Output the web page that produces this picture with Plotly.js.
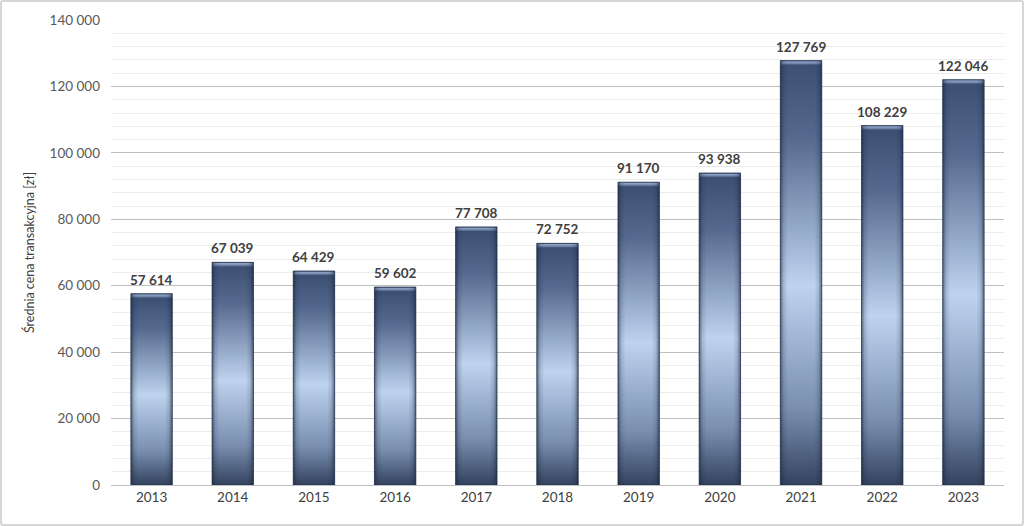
<!DOCTYPE html>
<html>
<head>
<meta charset="utf-8">
<script src="https://cdn.plot.ly/plotly-3.0.1.min.js"></script>
<style>
html,body{margin:0;padding:0;background:#fff;}
#wrap{position:relative;width:1024px;height:526px;}
#chart{width:1024px;height:526px;}
#frame{position:absolute;left:0;top:0;width:1024px;height:526px;box-sizing:border-box;border:2px solid #d6d6d6;border-radius:3px;pointer-events:none;}
</style>
</head>
<body>
<div id="wrap"><div id="chart"></div><div id="frame"></div></div>
<script>
const years = ['2013','2014','2015','2016','2017','2018','2019','2020','2021','2022','2023'];
const prices = [57614, 67039, 64429, 59602, 77708, 72752, 91170, 93938, 127769, 108229, 122046];
const yTickVals = [0, 20000, 40000, 60000, 80000, 100000, 120000, 140000];
const yTitle = 'Średnia cena transakcyjna [zł]';

function fmt(v){ return String(v).replace(/\B(?=(\d{3})+(?!\d))/g, ' '); }

const trace = {
  type: 'bar',
  x: years,
  y: prices,
  marker: {color: '#7f93b3', line: {color: '#2c3a54', width: 0.8}},
  hoverinfo: 'none'
};

const annotations = years.map((yr, i) => ({
  x: i, y: prices[i], xref: 'x', yref: 'y',
  text: fmt(prices[i]), showarrow: false, yanchor: 'bottom', yshift: 4,
  font: {family: 'Lato, "Open Sans", sans-serif', size: 13.5, color: '#404040', weight: 'bold'}
}));

const layout = {
  width: 1024, height: 526,
  margin: {l: 111, r: 20, t: 20, b: 41},
  paper_bgcolor: '#ffffff', plot_bgcolor: '#ffffff',
  bargap: 0.49,
  showlegend: false,
  font: {family: 'Lato, "Open Sans", sans-serif', color: '#404040'},
  xaxis: {
    type: 'category',
    range: [-0.5, years.length - 0.5],
    showline: true, linecolor: '#bfbfbf', linewidth: 1.2,
    ticks: '', tickfont: {size: 13.5, color: '#404040'},
    showgrid: false, zeroline: false
  },
  yaxis: {
    range: [0, 140000],
    tickvals: yTickVals,
    ticktext: yTickVals.map(fmt),
    ticks: '', ticklabelstandoff: 10,
    tickfont: {size: 13.5, color: '#595959'},
    showgrid: true, gridcolor: '#bfbfbf', gridwidth: 1.2,
    zeroline: false, showline: false,
    minor: {dtick: 4000, showgrid: true, gridcolor: '#ececec', gridwidth: 1, ticks: ''},
    title: {text: yTitle, font: {size: 12.5, color: '#404040'}, standoff: 12}
  },
  annotations: annotations
};

Plotly.newPlot('chart', [trace], layout, {staticPlot: true}).then(function(gd){
  const svg = gd.querySelector('svg.main-svg');
  const ns = 'http://www.w3.org/2000/svg';
  let defs = svg.querySelector('defs');
  if (!defs) { defs = document.createElementNS(ns, 'defs'); svg.insertBefore(defs, svg.firstChild); }
  function grad(id, x1, y1, x2, y2, stops){
    const g = document.createElementNS(ns, 'linearGradient');
    g.setAttribute('id', id);
    g.setAttribute('gradientUnits', 'userSpaceOnUse');
    g.setAttribute('x1', x1); g.setAttribute('y1', y1);
    g.setAttribute('x2', x2); g.setAttribute('y2', y2);
    stops.forEach(s => {
      const st = document.createElementNS(ns, 'stop');
      st.setAttribute('offset', Math.max(0, Math.min(1, s[0])));
      st.setAttribute('stop-color', s[1]);
      st.setAttribute('stop-opacity', s[2] === undefined ? 1 : s[2]);
      g.appendChild(st);
    });
    defs.appendChild(g);
  }
  svg.querySelectorAll('g.point path').forEach((p, i) => {
    const b = p.getBBox();
    const h = b.height, w = b.width;
    const px = v => v / h;
    grad('vg' + i, 0, b.y, 0, b.y + h, [
      [0, '#34466a'], [px(1.2), '#8ea3c6'], [px(3), '#6f84a8'], [px(4.5), '#3d5074'],
      [0.18, '#55698e'], [0.53, '#bdd3ef'], [0.82, '#7a8fb0'], [1, '#33435f']
    ]);
    grad('hg' + i, b.x, 0, b.x + w, 0, [
      [0, '#17223a', 0.6], [0.08, '#17223a', 0.15], [0.18, '#17223a', 0],
      [0.82, '#17223a', 0], [0.92, '#17223a', 0.15], [1, '#17223a', 0.6]
    ]);
    p.style.fill = 'url(#vg' + i + ')';
    const c = p.cloneNode(true);
    c.style.fill = 'url(#hg' + i + ')';
    c.style.stroke = 'none';
    p.parentNode.appendChild(c);
  });
});
</script>
</body>
</html>
